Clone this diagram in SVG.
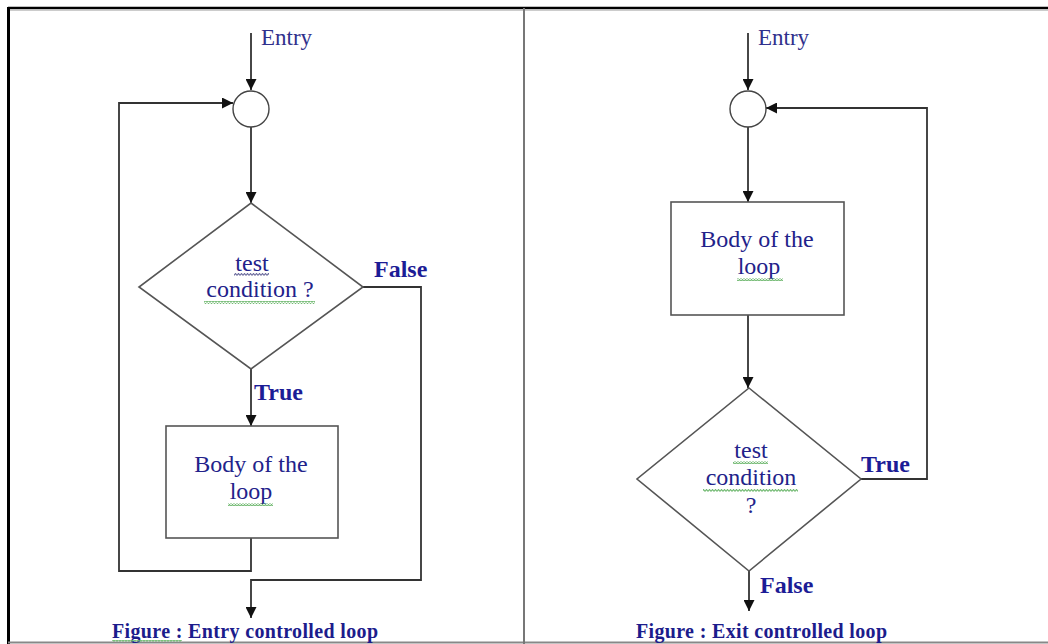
<svg xmlns="http://www.w3.org/2000/svg" width="1048" height="644" viewBox="0 0 1048 644">
  <style>
    .frame { stroke: #000; fill: none; }
    .divider { stroke: #777; stroke-width: 2; }
    .shape { fill: #fff; stroke: #555; stroke-width: 1.6; }
    .circ { fill: #fff; stroke: #444; stroke-width: 1.4; }
    .flow { fill: none; stroke: #333; stroke-width: 1.8; }
    .txt { font-family: "Liberation Serif", "Times New Roman", serif; font-size: 24px; fill: #22228a; text-anchor: middle; }
    .lbl { font-family: "Liberation Serif", "Times New Roman", serif; font-size: 24px; font-weight: bold; fill: #1c1c96; }
    .entry { font-family: "Liberation Serif", "Times New Roman", serif; font-size: 23px; fill: #30308c; }
    .cap { font-family: "Liberation Serif", "Times New Roman", serif; font-size: 20px; font-weight: bold; fill: #1c1c8c; }
    .squig-g { fill: url(#squigGreen); }
    .squig-b { fill: url(#squigBlue); }
  </style>
  <defs>
    <marker id="arrow" viewBox="0 0 10 10" refX="10" refY="5" markerWidth="11" markerHeight="11" markerUnits="userSpaceOnUse" orient="auto">
      <path d="M0,0 L10,5 L0,10 Z" fill="#111"/>
    </marker>
    <pattern id="squigGreen" width="3" height="3" patternUnits="userSpaceOnUse">
      <path d="M0,2.5 L1.5,0.5 L3,2.5" fill="none" stroke="#6fb86f" stroke-width="1.1"/>
    </pattern>
    <pattern id="squigBlue" width="3" height="3" patternUnits="userSpaceOnUse">
      <path d="M0,2.5 L1.5,0.5 L3,2.5" fill="none" stroke="#6a6a9c" stroke-width="1.1"/>
    </pattern>
  </defs>

  <!-- page background and frame -->
  <rect x="0" y="0" width="1048" height="644" fill="#fff"/>
  <line x1="8" y1="8" x2="1048" y2="8" class="frame" stroke-width="2.6"/>
  <line x1="8.5" y1="7" x2="8.5" y2="644" class="frame" stroke-width="3"/>
  <line x1="10" y1="10.5" x2="1048" y2="10.5" stroke="#ccc" stroke-width="1"/>
  <line x1="8" y1="642.5" x2="1048" y2="642.5" stroke="#888" stroke-width="2"/>
  <line x1="524" y1="8" x2="524" y2="644" class="divider"/>

  <!-- connectors -->
  <g id="connectors">
    <!-- entry controlled loop -->
    <line x1="251" y1="33" x2="251" y2="90" class="flow" marker-end="url(#arrow)"/>
    <line x1="251" y1="127" x2="251" y2="203" class="flow" marker-end="url(#arrow)"/>
    <line x1="251" y1="369" x2="251" y2="426" class="flow" marker-end="url(#arrow)"/>
    <polyline points="251,538 251,571 119,571 119,103 233,103" class="flow" marker-end="url(#arrow)"/>
    <polyline points="363,287 421,287 421,580 251,580 251,618" class="flow" marker-end="url(#arrow)"/>
    <!-- exit controlled loop -->
    <line x1="748" y1="33" x2="748" y2="90" class="flow" marker-end="url(#arrow)"/>
    <line x1="748" y1="127" x2="748" y2="202" class="flow" marker-end="url(#arrow)"/>
    <line x1="748" y1="315" x2="748" y2="388" class="flow" marker-end="url(#arrow)"/>
    <polyline points="861,479 927,479 927,108 766,108" class="flow" marker-end="url(#arrow)"/>
    <line x1="749" y1="571" x2="749" y2="611" class="flow" marker-end="url(#arrow)"/>
  </g>

  <!-- entry controlled loop nodes -->
  <g id="left-entry">
    <text x="261" y="45" class="entry">Entry</text>
  </g>
  <g id="left-junction">
    <circle cx="251" cy="109" r="18" class="circ"/>
  </g>
  <g id="left-test">
    <polygon points="251,203 363,287 251,369 139,287" class="shape"/>
    <text x="252" y="271" class="txt">test</text>
    <text x="260" y="297" class="txt">condition ?</text>
    <rect x="234" y="273" width="35" height="3" class="squig-b"/>
    <rect x="204" y="301" width="111" height="3" class="squig-g"/>
  </g>
  <g id="left-body">
    <rect x="166" y="426" width="172" height="112" class="shape"/>
    <text x="251" y="472" class="txt">Body of the</text>
    <text x="251" y="499" class="txt">loop</text>
    <rect x="228" y="503" width="45" height="3" class="squig-g"/>
  </g>
  <g id="left-labels">
    <text x="374" y="277" class="lbl">False</text>
    <text x="254" y="400" class="lbl">True</text>
  </g>
  <g id="left-caption">
    <text x="112" y="638" class="cap" textLength="266" lengthAdjust="spacing">Figure : Entry controlled loop</text>
    <rect x="112" y="640" width="70" height="2" class="squig-g"/>
  </g>

  <!-- exit controlled loop nodes -->
  <g id="right-entry">
    <text x="758" y="45" class="entry">Entry</text>
  </g>
  <g id="right-junction">
    <circle cx="748" cy="109" r="18" class="circ"/>
  </g>
  <g id="right-body">
    <rect x="671" y="202" width="173" height="113" class="shape"/>
    <text x="757" y="247" class="txt">Body of the</text>
    <text x="759" y="274" class="txt">loop</text>
    <rect x="737" y="278" width="46" height="3" class="squig-g"/>
  </g>
  <g id="right-test">
    <polygon points="749,388 861,479 749,571 637,479" class="shape"/>
    <text x="751" y="458" class="txt">test</text>
    <text x="751" y="485" class="txt">condition</text>
    <text x="751" y="513" class="txt">?</text>
    <rect x="733" y="461" width="35" height="3" class="squig-g"/>
    <rect x="703" y="489" width="95" height="3" class="squig-g"/>
  </g>
  <g id="right-labels">
    <text x="861" y="472" class="lbl">True</text>
    <text x="760" y="593" class="lbl">False</text>
  </g>
  <g id="right-caption">
    <text x="636" y="638" class="cap" textLength="251" lengthAdjust="spacing">Figure : Exit controlled loop</text>
  </g>
</svg>
